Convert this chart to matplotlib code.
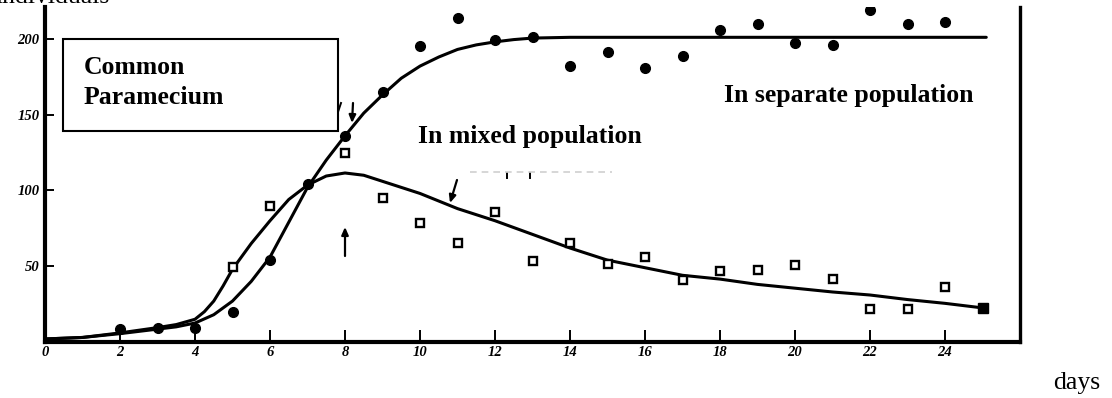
import matplotlib
matplotlib.use("Agg")
import matplotlib.pyplot as plt
from matplotlib.patches import Rectangle

# ---------------- data ----------------
sep_days = [2, 3, 4, 5, 6, 7, 8, 9, 10, 11, 12, 13, 14, 15, 16, 17, 18, 19, 20, 21, 22, 23, 24]
sep_vals = [8.5, 9, 9, 20, 54, 104, 136, 165, 195, 214, 199, 201, 182, 191, 181, 189, 206, 210, 197, 196, 219, 210, 211]

mix_days = [5, 6, 8, 9, 10, 11, 12, 13, 14, 15, 16, 17, 18, 19, 20, 21, 22, 23, 24, 25]
mix_vals = [49.5, 90, 125, 95, 78.5, 65, 86, 53.5, 65, 51.5, 56, 41, 47, 47.5, 51, 41.5, 22, 22, 36, 22.5]

sep_curve_days = [0, 1, 2, 3, 3.5, 4, 4.5, 5, 5.5, 6, 6.5, 7, 7.5, 8, 8.5, 9, 9.5, 10, 10.5, 11, 11.5, 12, 12.5, 13, 14, 25.1]
sep_curve_vals = [2, 3, 5.5, 8.5, 10, 12.5, 18, 27, 40, 56, 79, 102, 120, 136, 151, 163, 174, 182, 188, 193, 196, 198, 199.5, 200.5, 201, 201]

mix_curve_days = [0, 1, 2, 3, 3.5, 4, 4.25, 4.5, 4.75, 5, 5.5, 6, 6.5, 7, 7.5, 8, 8.5, 9, 9.5, 10, 11, 12, 13, 14, 15, 16, 17, 18, 19, 20, 21, 22, 23, 24, 25]
mix_curve_vals = [2, 3, 6, 9.5, 11.5, 15, 20, 27, 37, 48, 65, 80, 94, 103.5, 109.5, 111.5, 110, 106, 102, 98, 88, 80, 71, 62, 54, 49, 44, 41.5, 38, 35.5, 33, 31, 28, 25.5, 22.5]

x_ticks = [0, 2, 4, 6, 8, 10, 12, 14, 16, 18, 20, 22, 24]
x_tick_labels = ["0", "2", "4", "6", "8", "10", "12", "14", "16", "18", "20", "22", "24"]
y_ticks = [50, 100, 150, 200]
y_tick_labels = ["50", "100", "150", "200"]

# ---------------- figure ----------------
W, H = 1112, 398
fig = plt.figure(figsize=(W / 100, H / 100), dpi=100)
fig.patch.set_facecolor("white")


def px(x, y):
    return (x / W, 1 - y / H)


ax = fig.add_axes([45 / W, 56 / H, 975 / W, 335 / H])
ax.set_xlim(0, 26)
ax.set_ylim(0, 221)

ax.plot(sep_curve_days, sep_curve_vals, color="black", lw=2.2, solid_capstyle="round",
        solid_joinstyle="round", zorder=2)
ax.plot(mix_curve_days, mix_curve_vals, color="black", lw=2.2, solid_capstyle="round",
        solid_joinstyle="round", zorder=2)

ax.plot(sep_days, sep_vals, linestyle="none", marker="o", ms=7, color="black", zorder=3)
ax.plot(mix_days[:-1], mix_vals[:-1], linestyle="none", marker="s", ms=6, mfc="white",
        mec="black", mew=1.7, zorder=3)
ax.plot(mix_days[-1:], mix_vals[-1:], linestyle="none", marker="s", ms=7, color="black", zorder=3)

# spines
ax.spines["top"].set_visible(False)
ax.spines["left"].set_linewidth(3)
ax.spines["bottom"].set_linewidth(3)
ax.spines["right"].set_linewidth(2.4)

tick_font = dict(family="Liberation Serif", size=10.5, weight="bold", style="italic")
ax.set_xticks(x_ticks)
ax.set_xticklabels(x_tick_labels, fontdict=tick_font)
ax.set_yticks(y_ticks)
ax.set_yticklabels(y_tick_labels, fontdict=tick_font)
ax.tick_params(axis="x", direction="in", length=8.5, width=1.4, pad=3)
ax.tick_params(axis="y", direction="in", length=6.5, width=1.4, pad=4)
ax.tick_params(right=False, top=False)

# ---------------- box + labels ----------------
box = Rectangle(px(63, 131), 275 / W, 92 / H, transform=fig.transFigure,
                facecolor="white", edgecolor="black", lw=1.5, zorder=5)
fig.patches.append(box)

bold_font = dict(family="Liberation Serif", size=18.5, weight="bold")
fig.text(*px(84, 74), "Common", va="baseline", ha="left", zorder=6, **bold_font)
fig.text(*px(84, 104), "Paramecium", va="baseline", ha="left", zorder=6, **bold_font)
fig.text(*px(418, 143), "In mixed population", va="baseline", ha="left", **bold_font)
fig.text(*px(724, 102), "In separate population", va="baseline", ha="left", **bold_font)

reg_font = dict(family="Liberation Serif", size=18.5)
fig.text(*px(-4, 3), "individuals", va="baseline", ha="left", **reg_font)
fig.text(*px(1053, 389), "days", va="baseline", ha="left", **reg_font)

# ---------------- hand-drawn arrows from the scan ----------------
arrow = dict(arrowstyle="-|>,head_length=0.45,head_width=0.2", lw=1.6, color="black",
             shrinkA=0, shrinkB=0)
ax.annotate("", xy=px(345, 227), xytext=px(345, 256), xycoords="figure fraction",
            textcoords="figure fraction", arrowprops=arrow)
ax.annotate("", xy=px(352, 123), xytext=px(353, 103), xycoords="figure fraction",
            textcoords="figure fraction", arrowprops=arrow)
ax.annotate("", xy=px(450, 203), xytext=px(457, 180), xycoords="figure fraction",
            textcoords="figure fraction", arrowprops=arrow)
for seg in [((338, 112), (341, 103)), ((507, 173), (507, 178)), ((530, 173), (530, 178))]:
    (x0, y0), (x1, y1) = seg
    a, b = px(x0, y0), px(x1, y1)
    fig.add_artist(plt.Line2D([a[0], b[0]], [a[1], b[1]], transform=fig.transFigure,
                              color="black", lw=1.4))
a, b = px(470, 172), px(612, 172)
fig.add_artist(plt.Line2D([a[0], b[0]], [a[1], b[1]], transform=fig.transFigure,
                          color="#d0d0d0", lw=1.2, linestyle=(0, (4, 3))))

fig.savefig("out.png", dpi=100)
